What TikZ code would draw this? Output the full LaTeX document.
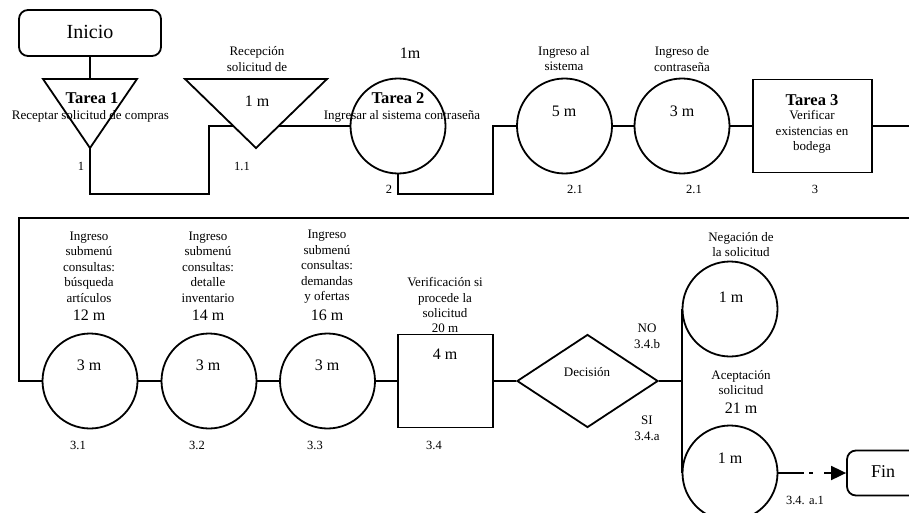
\documentclass[tikz,border=0pt]{standalone}
\usepackage{fontspec}
\setmainfont{Liberation Serif}
\usetikzlibrary{shapes.geometric,arrows.meta}
\pgfdeclarelayer{bg}
\pgfsetlayers{bg,main}
\begin{document}
\begin{tikzpicture}[x=1pt,y=-1pt,
  flow/.style={line width=1.8pt},
  shp/.style={draw, line width=1.8pt, fill=white, inner sep=0pt},
  act/.style={shp, circle, minimum size=95pt},
  terminal/.style={shp, rectangle, rounded corners=9pt},
  txt/.style={inner sep=0pt, align=center, font=\fontsize{13}{15.5}\selectfont},
  big/.style={inner sep=0pt, font=\fontsize{16}{18}\selectfont},
  task/.style={inner sep=0pt, font=\fontsize{16.5}{19}\selectfont\bfseries},
  num/.style={inner sep=0pt, font=\fontsize{12.5}{14}\selectfont}]

\useasboundingbox (0,0) rectangle (909,513);
\clip (0,0) rectangle (909,513);

% ---------- first row ----------
\node[terminal, minimum width=142pt, minimum height=46pt] (inicio) at (90,33) {};
\coordinate (t1top) at (90,79);
\coordinate (t1left) at (43,79);
\coordinate (t1right) at (137,79);
\coordinate (t1apex) at (90,148);
\draw[shp] (t1left) -- (t1right) -- (t1apex) -- cycle;

\coordinate (t2left) at (185,79);
\coordinate (t2right) at (327,79);
\coordinate (t2apex) at (256,148);
\draw[shp] (t2left) -- (t2right) -- (t2apex) -- cycle;

\node[act] (c2) at (398,126) {};
\node[act] (c3) at (564.5,126) {};
\node[act] (c4) at (682,126) {};
\node[shp, rectangle, minimum width=119pt, minimum height=93pt] (r3) at (812.5,126) {};

% ---------- second row ----------
\node[act] (c31) at (90,381) {};
\node[act] (c32) at (209,381) {};
\node[act] (c33) at (327.5,381) {};
\node[draw, line width=1.8pt, inner sep=0pt, rectangle, minimum width=95pt, minimum height=93pt] (r34) at (445.5,381) {};
\node[shp, diamond, minimum width=141pt, minimum height=93pt] (dec) at (587.5,381) {};
\node[act] (cno) at (730,309) {};
\node[act] (csi) at (730,473) {};
\node[terminal, minimum width=76pt, minimum height=45pt] (fin) at (885,473) {};

% ---------- connectors ----------
\coordinate (k1) at (209,194);
\coordinate (k2) at (493,194);
\coordinate (e1) at (909,126);
\coordinate (e2) at (909,218);
\coordinate (k3) at (19,218);
\begin{pgfonlayer}{bg}
\draw[flow] (inicio.south) -- (t1top);
\draw[flow] (t1apex) |- (k1) |- (c2.west);
\draw[flow] (c2.south) |- (k2) |- (c3.west);
\draw[flow] (c3.east) -- (c4.west);
\draw[flow] (c4.east) -- (r3.west);
\draw[flow] (r3.east) -- (e1);
\draw[flow] (e2) -- (k3) |- (c31.west);
\draw[flow] (c31.east) -- (c32.west);
\draw[flow] (c32.east) -- (c33.west);
\draw[flow] (c33.east) -- (r34.west);
\draw[flow] (r34.east) -- (dec.west);
\draw[flow] (dec.east) -| (cno.west);
\draw[flow] (dec.east) -| (csi.west);
\end{pgfonlayer}
\draw[flow, dash pattern=on 26pt off 5pt on 4pt off 11pt on 20pt,
      -{Triangle[length=15pt,width=14pt]}] (csi.east) -- (fin.west);

% ---------- texts, first row ----------
\node[inner sep=0pt, font=\fontsize{20}{22}\selectfont] (tinicio) at (90,32) {Inicio};
\node[task] (ta1) at (92,98) {Tarea 1};
\node[txt] (ta1d) at (90.5,116) {Receptar solicitud de compras};
\node[num] (n1) at (81,166) {1};

\node[txt] (rec) at (257,59) {Recepción\\solicitud de};
\node[big] (t2time) at (257,101) {1 m};
\node[num] (n11) at (242,166) {1.1};

\node[big] (tm1) at (410,53) {1m};
\node[task] (ta2) at (398,98) {Tarea 2};
\node[txt] (ta2d) at (402,116) {Ingresar al sistema contraseña};
\node[num] (n2) at (389,189) {2};

\node[txt] (ing1) at (564,58.5) {Ingreso al\\sistema};
\node[big] (c3time) at (564,111) {5 m};
\node[num] (n21a) at (575,189) {2.1};

\node[txt] (ing2) at (682,59) {Ingreso de\\contraseña};
\node[big] (c4time) at (682,111) {3 m};
\node[num] (n21b) at (694,189) {2.1};

\node[task] (ta3) at (812,100) {Tarea 3};
\node[txt] (ta3d) at (812,132) {Verificar\\existencias en\\bodega};
\node[num] (n3) at (815,189) {3};

% ---------- texts, second row ----------
\node[txt] (s1) at (89,267) {Ingreso\\submenú\\consultas:\\búsqueda\\artículos};
\node[big] (s1t) at (89,315) {12 m};
\node[big] (c31t) at (89,365) {3 m};
\node[num] (n31) at (78,445) {3.1};

\node[txt] (s2) at (208,267) {Ingreso\\submenú\\consultas:\\detalle\\inventario};
\node[big] (s2t) at (208,315) {14 m};
\node[big] (c32t) at (208,365) {3 m};
\node[num] (n32) at (197,445) {3.2};

\node[txt] (s3) at (327,267) {Ingreso\\submenú\\consultas:\\demandas\\y ofertas};
\node[big] (s3t) at (327,315) {16 m};
\node[big] (c33t) at (327,365) {3 m};
\node[num] (n33) at (315,445) {3.3};

\node[txt] (ver) at (445,297.5) {Verificación si\\procede la\\solicitud};
\node[txt] (vert) at (445,328) {20 m};
\node[big] (r34t) at (445,354) {4 m};
\node[num] (n34) at (434,445) {3.4};

\node[txt] (dect) at (587,372) {Decisión};
\node[txt] (no) at (647,336.5) {NO\\3.4.b};
\node[txt] (si) at (647,428.5) {SI\\3.4.a};

\node[txt] (neg) at (741,244.5) {Negación de\\la solicitud};
\node[big] (cnot) at (731,297) {1 m};
\node[txt] (acep) at (741,382.5) {Aceptación\\solicitud};
\node[big] (acept) at (741,408) {21 m};
\node[big] (csit) at (730,458) {1 m};
\node[num] (n3a1) at (805,500) {3.4. a.1};
\node[inner sep=0pt, font=\fontsize{18}{20}\selectfont] (fint) at (883,472) {Fin};
\end{tikzpicture}
\end{document}
